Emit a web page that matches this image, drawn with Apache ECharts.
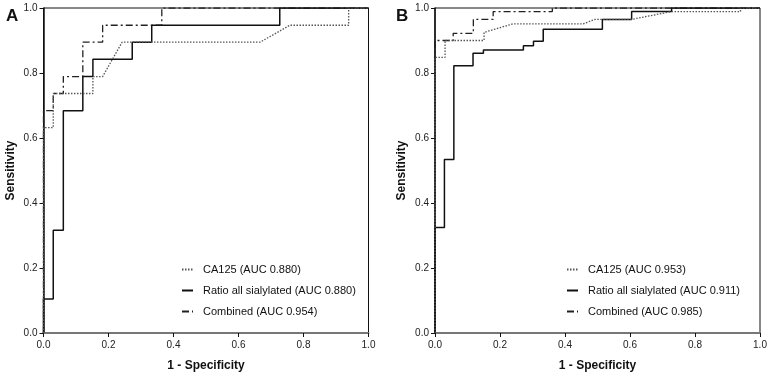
<!DOCTYPE html>
<html>
<head>
<meta charset="utf-8">
<script src="https://cdn.jsdelivr.net/npm/echarts@6/dist/echarts.min.js"></script>
<style>
  html, body { margin: 0; padding: 0; background: #fff; }
  #myChart { width: 772px; height: 378px; }
</style>
</head>
<body>
<div id="myChart"></div>
<script>
// ROC coordinate points [1 - specificity, sensitivity]
// Panel A
var aCa125 = [[0,0],[0,0.632],[0.030,0.632],[0.030,0.737],[0.152,0.737],[0.152,0.789],[0.182,0.789],[0.242,0.895],[0.667,0.895],[0.758,0.947],[0.939,0.947],[0.939,1],[1,1]];
var aRatio = [[0,0],[0,0.105],[0.030,0.105],[0.030,0.316],[0.061,0.316],[0.061,0.684],[0.121,0.684],[0.121,0.789],[0.152,0.789],[0.152,0.842],[0.273,0.842],[0.273,0.895],[0.333,0.895],[0.333,0.947],[0.727,0.947],[0.727,1],[1,1]];
var aCombined = [[0,0],[0,0.684],[0.030,0.684],[0.030,0.737],[0.061,0.737],[0.061,0.789],[0.121,0.789],[0.121,0.895],[0.182,0.895],[0.182,0.947],[0.364,0.947],[0.364,1],[1,1]];
// Panel B
var bCa125 = [[0,0],[0,0.848],[0.031,0.848],[0.031,0.900],[0.151,0.900],[0.151,0.925],[0.239,0.951],[0.456,0.951],[0.492,0.965],[0.605,0.965],[0.728,0.989],[0.940,0.989],[0.940,1],[1,1]];
var bRatio = [[0,0],[0,0.325],[0.029,0.325],[0.029,0.534],[0.058,0.534],[0.058,0.822],[0.117,0.822],[0.117,0.861],[0.149,0.861],[0.149,0.871],[0.272,0.871],[0.272,0.884],[0.303,0.884],[0.303,0.898],[0.333,0.898],[0.333,0.935],[0.515,0.935],[0.515,0.965],[0.605,0.965],[0.605,0.989],[0.728,0.989],[0.728,1],[1,1]];
var bCombined = [[0,0],[0,0.900],[0.056,0.900],[0.056,0.922],[0.118,0.922],[0.118,0.965],[0.179,0.965],[0.179,0.989],[0.361,0.989],[0.361,1],[1,1]];

var namesA = ["CA125 (AUC 0.880)", "Ratio all sialylated (AUC 0.880)", "Combined (AUC 0.954)"];
var namesB = ["CA125 (AUC 0.953)", "Ratio all sialylated (AUC 0.911)", "Combined (AUC 0.985)"];
var panelLabels = ["A", "B"];

var font = "Liberation Sans, Arial, sans-serif";

// line styles: dotted, solid, dash-dot
var styles = [
  { color: "#555", width: 1.3, type: [1.5, 1.5] },
  { color: "#111", width: 1.5, type: "solid" },
  { color: "#222", width: 1.3, type: [7, 3, 2, 3] }
];

function makeAxis(idx, isX) {
  return {
    type: "value",
    gridIndex: idx,
    min: 0,
    max: 1,
    interval: 0.2,
    name: isX ? "1 - Specificity" : "Sensitivity",
    nameLocation: "middle",
    nameGap: 27,
    nameTextStyle: { fontFamily: font, fontWeight: "bold", fontSize: 12, color: "#111" },
    axisLine: { show: true, onZero: false, lineStyle: { color: isX ? "#777" : "#111", width: isX ? 2 : 1.5 } },
    axisTick: { show: true, length: 4, lineStyle: { color: "#111", width: 1 } },
    axisLabel: {
      fontFamily: font, fontSize: 10, color: "#222", margin: isX ? 7 : 6,
      formatter: function (v) { return v.toFixed(1); }
    },
    splitLine: { show: false }
  };
}

var myChart = echarts.init(document.getElementById("myChart"));

var seriesData = [aCa125, aRatio, aCombined, bCa125, bRatio, bCombined];
var allNames = namesA.concat(namesB);
var series = [];
for (var i = 0; i < 6; i++) {
  series.push({
    name: allNames[i],
    type: "line",
    xAxisIndex: i < 3 ? 0 : 1,
    yAxisIndex: i < 3 ? 0 : 1,
    data: seriesData[i],
    showSymbol: false,
    symbol: "none",
    animation: false,
    lineStyle: styles[i % 3],
    itemStyle: { color: styles[i % 3].color },
    z: 3 - (i % 3)
  });
}

function makeLegend(names, left) {
  return {
    orient: "vertical",
    left: left,
    top: 259,
    itemWidth: 11,
    itemHeight: 12,
    itemGap: 10,
    data: names,
    selectedMode: false,
    // only the line sample, no marker on it
    itemStyle: { color: "transparent", borderWidth: 0, opacity: 0 },
    textStyle: { fontFamily: font, fontSize: 11, color: "#111", padding: [0, 0, 0, 5] }
  };
}

myChart.setOption({
  animation: false,
  title: [
    { text: panelLabels[0], left: 1, top: 3, textStyle: { fontFamily: font, fontWeight: "bold", fontSize: 17, color: "#111" } },
    { text: panelLabels[1], left: 391, top: 3, textStyle: { fontFamily: font, fontWeight: "bold", fontSize: 17, color: "#111" } }
  ],
  grid: [
    { left: 43.5, top: 8, width: 325, height: 325, show: true, borderColor: "#111", borderWidth: 1, backgroundColor: "transparent" },
    { left: 435, top: 8, width: 325, height: 325, show: true, borderColor: "#111", borderWidth: 1, backgroundColor: "transparent" }
  ],
  xAxis: [makeAxis(0, true), makeAxis(1, true)],
  yAxis: [makeAxis(0, false), makeAxis(1, false)],
  legend: [makeLegend(namesA, 176), makeLegend(namesB, 561)],
  series: series
});
</script>
</body>
</html>
